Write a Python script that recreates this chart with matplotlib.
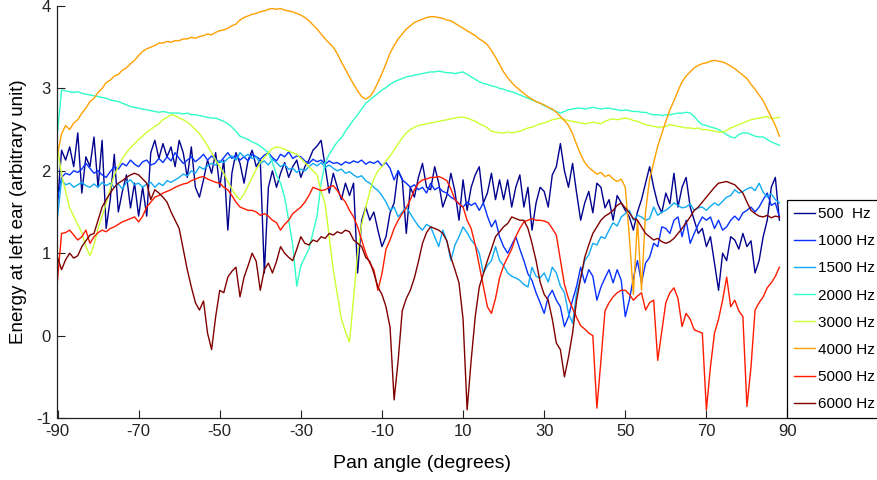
import numpy as np
import matplotlib
matplotlib.use("Agg")
import matplotlib.pyplot as plt

plt.rcParams['font.family'] = ['Liberation Sans', 'DejaVu Sans']

labels = ["500  Hz", "1000 Hz", "1500 Hz", "2000 Hz", "3000 Hz", "4000 Hz", "5000 Hz", "6000 Hz"]
colors = ["#00008f", "#0530ff", "#10aaf5", "#30ffc8", "#ccff30", "#ffa000", "#ff1a00", "#800000"]

start_angle = -90  # first pan angle, 1 degree steps

f500 = [
    1.60, 2.25, 2.13, 2.29, 2.05, 2.46, 1.73, 2.17, 2.05, 2.41,
    1.80, 2.37, 1.30, 1.65, 2.20, 1.50, 1.75, 1.95, 1.55, 1.85,
    1.45, 1.80, 1.45, 2.22, 2.37, 2.15, 2.33, 2.17, 2.29, 2.05,
    2.37, 2.22, 1.92, 2.29, 1.80, 1.68, 1.89, 2.13, 1.97, 2.22,
    1.80, 2.13, 1.28, 1.97, 2.22, 2.09, 1.85, 2.13, 2.25, 2.05,
    2.13, 0.76, 1.80, 2.00, 1.80, 1.97, 2.10, 1.92, 2.05, 2.13,
    1.92, 2.05, 2.13, 2.25, 2.30, 2.37, 2.05, 1.73, 1.97, 1.80,
    1.65, 1.85, 1.70, 1.85, 0.76, 1.40, 1.56, 1.40, 1.50, 1.28,
    1.08, 1.20, 1.49, 1.61, 2.00, 1.90, 1.24, 1.80, 1.68, 1.92,
    2.09, 1.80, 1.77, 2.05, 1.85, 1.56, 1.70, 1.97, 1.75, 1.40,
    1.89, 1.52, 1.80, 1.95, 2.05, 1.61, 1.73, 1.97, 1.65, 1.89,
    1.65, 1.89, 1.56, 1.80, 1.95, 1.56, 1.80, 1.28, 1.61, 1.80,
    1.75, 1.56, 1.95, 2.05, 2.33, 2.00, 1.80, 2.09, 1.73, 1.40,
    1.61, 1.75, 1.49, 1.85, 1.80, 1.55, 1.65, 1.40, 1.70, 1.61,
    1.52, 1.44, 1.28, 1.50, 1.65, 1.85, 2.05, 1.80, 1.60, 1.49,
    1.73, 1.60, 1.97, 1.56, 1.80, 1.92, 1.56, 1.40, 1.24, 1.30,
    1.08, 1.20, 0.88, 0.55, 1.00, 0.91, 1.20, 1.16, 1.05, 1.24,
    1.08, 1.15, 0.76, 0.91, 1.20, 1.40, 1.80, 1.92, 1.40,
]

f1000 = [
    1.65, 1.92, 1.97, 1.95, 2.00, 1.98, 2.02, 2.09, 2.03, 1.97,
    2.00, 1.95, 1.92, 1.99, 2.05, 2.02, 2.09, 2.06, 2.13, 2.08,
    2.05, 2.11, 2.13, 2.07, 2.09, 2.15, 2.10, 2.17, 2.12, 2.22,
    2.15, 2.09, 2.13, 2.17, 2.11, 2.15, 2.20, 2.13, 2.18, 2.14,
    2.10, 2.16, 2.22, 2.15, 2.19, 2.13, 2.17, 2.12, 2.20, 2.17,
    2.14, 2.19, 2.22, 2.16, 2.12, 2.20, 2.17, 2.23, 2.15, 2.18,
    2.17, 2.12, 2.09, 2.14, 2.11, 2.13, 2.08, 2.12, 2.09, 2.10,
    2.07, 2.11, 2.09, 2.12, 2.10, 2.13, 2.08, 2.11, 2.09, 2.12,
    2.06, 2.10, 2.03, 1.89, 2.00, 1.89, 1.85, 1.80, 1.83, 1.77,
    1.80, 1.73, 1.85, 1.77, 1.80, 1.75, 1.73, 1.68, 1.65, 1.60,
    1.56, 1.62, 1.58, 1.61, 1.52, 1.61, 1.45, 1.32, 1.40, 1.20,
    1.08, 1.00, 1.10, 1.20, 1.05, 0.91, 0.75, 0.67, 0.52, 0.40,
    0.27, 0.47, 0.55, 0.43, 0.35, 0.11, 0.23, 0.43, 0.60, 0.83,
    0.64, 0.80, 0.72, 0.43, 0.59, 0.70, 0.80, 0.64, 0.80, 0.67,
    0.23, 0.43, 0.70, 0.91, 0.64, 0.88, 0.95, 1.12, 1.08, 1.32,
    1.30, 1.24, 1.40, 1.44, 1.20, 1.40, 1.12, 1.24, 1.35, 1.44,
    1.40, 1.44, 1.30, 1.40, 1.28, 1.32, 1.40, 1.45, 1.40, 1.49,
    1.52, 1.56, 1.50, 1.56, 1.65, 1.73, 1.58, 1.61, 1.44,
]

f1500 = [
    1.44, 1.89, 1.83, 1.85, 1.80, 1.83, 1.86, 1.82, 1.80, 1.84,
    1.80, 1.86, 1.82, 1.85, 1.80, 1.84, 1.78, 1.86, 1.89, 1.83,
    1.85, 1.80, 1.84, 1.86, 1.80, 1.85, 1.82, 1.88, 1.86, 1.89,
    1.92, 1.96, 1.94, 2.00, 1.97, 2.05, 2.02, 2.06, 2.09, 2.07,
    2.12, 2.10, 2.15, 2.18, 2.13, 2.22, 2.17, 2.20, 2.15, 2.17,
    2.09, 2.12, 2.07, 2.14, 2.10, 2.05, 2.08, 2.02, 2.03, 1.98,
    2.02, 2.00, 2.05, 2.09, 2.06, 2.10, 2.04, 2.07, 2.03, 2.00,
    2.02, 1.97, 1.99, 1.95, 1.92, 1.94, 1.88, 1.85, 1.80, 1.76,
    1.70, 1.62, 1.52, 1.56, 1.44, 1.50, 1.56, 1.48, 1.40, 1.33,
    1.28, 1.35, 1.32, 1.20, 1.08, 1.28, 1.15, 0.91, 1.10, 1.20,
    1.32, 1.25, 1.16, 1.10, 1.00, 0.76, 0.85, 0.91, 1.08, 0.91,
    0.85, 0.76, 0.72, 0.70, 0.67, 0.62, 0.59, 0.83, 0.72, 0.70,
    0.76, 0.65, 0.83, 0.76, 0.60, 0.52, 0.27, 0.15, 0.52, 0.70,
    0.91, 0.98, 1.12, 1.10, 1.20, 1.18, 1.28, 1.37, 1.33, 1.44,
    1.48, 1.52, 1.40, 1.46, 1.44, 1.40, 1.42, 1.56, 1.46, 1.50,
    1.52, 1.56, 1.61, 1.58, 1.55, 1.56, 1.60, 1.52, 1.55, 1.56,
    1.52, 1.57, 1.61, 1.58, 1.63, 1.68, 1.70, 1.77, 1.73, 1.75,
    1.78, 1.80, 1.76, 1.85, 1.74, 1.68, 1.72, 1.65, 1.61,
]

f2000 = [
    2.46, 2.98, 2.97, 2.96, 2.95, 2.96, 2.94, 2.93, 2.92, 2.91,
    2.90, 2.89, 2.88, 2.86, 2.85, 2.84, 2.82, 2.80, 2.78, 2.77,
    2.76, 2.75, 2.74, 2.73, 2.72, 2.71, 2.72, 2.71, 2.70, 2.70,
    2.70, 2.69, 2.70, 2.68, 2.68, 2.67, 2.66, 2.65, 2.64, 2.64,
    2.62, 2.60, 2.57, 2.53, 2.48, 2.42, 2.40, 2.38, 2.35, 2.33,
    2.30, 2.26, 2.22, 2.10, 1.95, 1.85, 1.68, 1.40, 1.10, 0.60,
    0.85, 0.95, 1.05, 1.25, 1.45, 1.85, 2.10, 2.20, 2.28, 2.35,
    2.40, 2.48, 2.55, 2.62, 2.68, 2.75, 2.82, 2.86, 2.90, 2.94,
    2.98, 3.01, 3.05, 3.08, 3.10, 3.12, 3.14, 3.15, 3.16, 3.17,
    3.18, 3.19, 3.20, 3.20, 3.21, 3.20, 3.19, 3.19, 3.18, 3.19,
    3.20, 3.17, 3.14, 3.11, 3.08, 3.06, 3.05, 3.03, 3.02, 3.00,
    2.99, 2.97, 2.96, 2.94, 2.92, 2.90, 2.88, 2.86, 2.84, 2.82,
    2.79, 2.77, 2.74, 2.72, 2.70, 2.72, 2.74, 2.75, 2.76, 2.76,
    2.75, 2.76, 2.77, 2.76, 2.75, 2.76, 2.76, 2.75, 2.74, 2.73,
    2.74, 2.73, 2.72, 2.72, 2.71, 2.71, 2.69, 2.68, 2.68, 2.67,
    2.68, 2.68, 2.69, 2.70, 2.70, 2.71, 2.70, 2.66, 2.60, 2.56,
    2.55, 2.53, 2.52, 2.50, 2.47, 2.44, 2.41, 2.40, 2.44, 2.46,
    2.46, 2.44, 2.42, 2.41, 2.41, 2.38, 2.35, 2.33, 2.31,
]

f3000 = [
    2.30, 1.95, 1.75, 1.55, 1.45, 1.35, 1.25, 1.08, 0.97, 1.10,
    1.30, 1.45, 1.60, 1.78, 1.95, 2.05, 2.15, 2.22, 2.28, 2.33,
    2.38, 2.42, 2.47, 2.50, 2.54, 2.57, 2.62, 2.65, 2.68, 2.67,
    2.64, 2.62, 2.59, 2.55, 2.50, 2.45, 2.38, 2.30, 2.22, 2.13,
    2.05, 1.97, 1.87, 1.78, 1.70, 1.65, 1.72, 1.82, 1.92, 2.02,
    2.10, 2.16, 2.22, 2.27, 2.29, 2.28, 2.26, 2.24, 2.22, 2.20,
    2.15, 2.10, 2.05, 2.00, 1.95, 1.75, 1.60, 1.20, 0.80, 0.50,
    0.20, 0.05, -0.08, 0.45, 1.00, 1.35, 1.55, 1.75, 1.90, 2.00,
    2.05, 2.12, 2.18, 2.25, 2.33, 2.40, 2.46, 2.50, 2.53, 2.55,
    2.56, 2.57, 2.58, 2.59, 2.60, 2.61, 2.62, 2.63, 2.64, 2.65,
    2.65, 2.64, 2.62, 2.60, 2.57, 2.55, 2.52, 2.48, 2.47, 2.46,
    2.46, 2.47, 2.46, 2.47, 2.48, 2.50, 2.52, 2.53, 2.55, 2.57,
    2.58, 2.60, 2.62, 2.63, 2.64, 2.62, 2.61, 2.60, 2.59, 2.58,
    2.57, 2.58, 2.59, 2.58, 2.57, 2.60, 2.62, 2.63, 2.62, 2.63,
    2.64, 2.63, 2.61, 2.60, 2.58, 2.56, 2.55, 2.54, 2.53, 2.53,
    2.54, 2.56, 2.55, 2.54, 2.53, 2.52, 2.52, 2.51, 2.52, 2.50,
    2.50, 2.49, 2.48, 2.47, 2.47, 2.49, 2.52, 2.54, 2.56, 2.58,
    2.60, 2.62, 2.63, 2.64, 2.65, 2.66, 2.63, 2.64, 2.65,
]

f4000 = [
    2.20, 2.45, 2.55, 2.50, 2.58, 2.62, 2.70, 2.76, 2.84, 2.88,
    2.95, 3.00, 3.07, 3.10, 3.15, 3.17, 3.22, 3.25, 3.30, 3.34,
    3.40, 3.45, 3.48, 3.50, 3.52, 3.55, 3.55, 3.57, 3.56, 3.58,
    3.58, 3.60, 3.60, 3.62, 3.61, 3.63, 3.64, 3.66, 3.65, 3.68,
    3.70, 3.71, 3.73, 3.76, 3.78, 3.83, 3.86, 3.88, 3.90, 3.91,
    3.93, 3.94, 3.96, 3.97, 3.96, 3.97, 3.95, 3.94, 3.93, 3.91,
    3.89, 3.86, 3.82, 3.77, 3.72, 3.66, 3.60, 3.55, 3.50, 3.42,
    3.32, 3.23, 3.14, 3.05, 2.97, 2.90, 2.87, 2.90, 2.97, 3.07,
    3.18, 3.30, 3.43, 3.52, 3.60, 3.66, 3.72, 3.76, 3.80, 3.82,
    3.84, 3.86, 3.87, 3.87, 3.86, 3.85, 3.83, 3.82, 3.79, 3.76,
    3.73, 3.70, 3.67, 3.64, 3.60, 3.57, 3.53, 3.46, 3.38, 3.29,
    3.20, 3.13, 3.07, 3.02, 2.98, 2.94, 2.90, 2.87, 2.84, 2.82,
    2.80, 2.77, 2.75, 2.71, 2.66, 2.61, 2.55, 2.45, 2.32, 2.20,
    2.10, 2.04, 2.00, 1.96, 1.98, 1.93, 1.95, 1.90, 1.87, 1.90,
    1.80, 1.20, 0.50, 1.40, 0.55, 1.50, 1.90, 2.10, 2.30, 2.45,
    2.60, 2.74, 2.85, 2.97, 3.08, 3.15, 3.20, 3.25, 3.28, 3.30,
    3.31, 3.33, 3.34, 3.33, 3.32, 3.30, 3.27, 3.24, 3.20, 3.16,
    3.12, 3.05, 2.99, 2.92, 2.85, 2.75, 2.65, 2.55, 2.42,
]

f5000 = [
    0.67, 1.24, 1.25, 1.28, 1.22, 1.16, 1.20, 1.28, 1.12, 1.20,
    1.25, 1.28, 1.26, 1.30, 1.32, 1.35, 1.38, 1.40, 1.42, 1.44,
    1.38, 1.45, 1.56, 1.62, 1.68, 1.70, 1.73, 1.75, 1.77, 1.80,
    1.82, 1.84, 1.85, 1.88, 1.90, 1.92, 1.93, 1.90, 1.88, 1.86,
    1.85, 1.80, 1.77, 1.70, 1.62, 1.56, 1.54, 1.52, 1.52, 1.50,
    1.46, 1.48, 1.45, 1.40, 1.37, 1.28, 1.35, 1.40, 1.48, 1.52,
    1.56, 1.62, 1.70, 1.80, 1.78, 1.76, 1.77, 1.80, 1.82, 1.76,
    1.68, 1.62, 1.52, 1.44, 1.32, 1.16, 1.00, 0.88, 0.80, 0.55,
    0.75, 1.05, 1.16, 1.30, 1.40, 1.48, 1.55, 1.65, 1.77, 1.85,
    1.89, 1.90, 1.92, 1.92, 1.93, 1.91, 1.88, 1.78, 1.65, 1.60,
    1.56, 1.40, 1.30, 1.10, 0.85, 0.60, 0.35, 0.27, 0.45, 0.70,
    0.85, 0.95, 1.05, 1.20, 1.30, 1.38, 1.40, 1.42, 1.40, 1.40,
    1.39, 1.37, 1.30, 1.22, 0.92, 0.62, 0.45, 0.33, 0.22, 0.12,
    0.08, 0.03, 0.00, -0.88, -0.30, 0.30, 0.40, 0.47, 0.52, 0.55,
    0.55, 0.50, 0.43, 0.48, 0.52, 0.31, 0.40, 0.43, -0.30, 0.05,
    0.40, 0.52, 0.58, 0.45, 0.11, 0.27, 0.20, 0.07, 0.05, 0.03,
    -0.90, -0.38, 0.03, 0.20, 0.43, 0.71, 0.35, 0.43, 0.30, 0.23,
    -0.86, -0.38, 0.31, 0.40, 0.47, 0.58, 0.64, 0.72, 0.83,
]

f6000 = [
    0.95, 0.80, 0.92, 1.00, 0.94, 0.97, 1.08, 1.15, 1.22, 1.24,
    1.40, 1.56, 1.65, 1.73, 1.80, 1.85, 1.88, 1.92, 1.95, 1.97,
    1.95, 1.90, 1.85, 1.65, 1.77, 1.73, 1.68, 1.62, 1.50, 1.40,
    1.30, 1.05, 0.80, 0.59, 0.40, 0.31, 0.42, 0.03, -0.17, 0.23,
    0.55, 0.52, 0.71, 0.78, 0.83, 0.47, 0.71, 0.85, 1.00, 0.90,
    0.55, 0.80, 0.88, 0.76, 0.90, 1.08, 1.00, 0.95, 0.91, 1.05,
    1.20, 1.12, 1.10, 1.16, 1.14, 1.20, 1.18, 1.24, 1.22, 1.26,
    1.24, 1.28, 1.26, 1.16, 1.12, 1.08, 0.95, 0.90, 0.76, 0.59,
    0.50, 0.35, 0.10, -0.78, -0.30, 0.30, 0.45, 0.55, 0.70, 0.90,
    1.12, 1.25, 1.32, 1.30, 1.28, 1.24, 1.15, 0.95, 0.80, 0.64,
    0.20, -0.90, -0.30, 0.23, 0.59, 0.75, 0.91, 1.05, 1.20, 1.26,
    1.32, 1.36, 1.44, 1.42, 1.40, 1.40, 1.30, 1.12, 0.91, 0.65,
    0.50, 0.43, 0.20, -0.09, -0.17, -0.50, -0.26, 0.03, 0.43, 0.70,
    0.95, 1.10, 1.24, 1.32, 1.40, 1.45, 1.48, 1.52, 1.58, 1.61,
    1.55, 1.49, 1.42, 1.40, 1.32, 1.24, 1.20, 1.16, 1.18, 1.14,
    1.12, 1.14, 1.18, 1.24, 1.30, 1.37, 1.44, 1.52, 1.56, 1.62,
    1.68, 1.74, 1.80, 1.85, 1.86, 1.87, 1.85, 1.83, 1.78, 1.73,
    1.62, 1.52, 1.48, 1.45, 1.44, 1.46, 1.43, 1.45, 1.44,
]

series = [f500, f1000, f1500, f2000, f3000, f4000, f5000, f6000]

x_ticks = [-90, -70, -50, -30, -10, 10, 30, 50, 70, 90]
y_ticks = [-1, 0, 1, 2, 3, 4]

fig = plt.figure(figsize=(8.78, 4.80), dpi=100)
ax = fig.add_axes([57.5 / 878, 62 / 480, 730 / 878, 412 / 480])

for vals, c, lab in zip(series, colors, labels):
    x = np.arange(start_angle, start_angle + len(vals))
    ax.plot(x, vals, color=c, lw=1.0, label=lab)

ax.set_xlim(-90, 90)
ax.set_ylim(-1, 4)
ax.set_xticks(x_ticks)
ax.set_yticks(y_ticks)
ax.set_xticklabels([str(t) for t in x_ticks])
ax.set_yticklabels([str(t) for t in y_ticks])
ax.tick_params(direction='in', length=6, width=0.8, labelsize=12, pad=4, colors='#222222')
ax.tick_params(axis='y', pad=5)
for s in ['top', 'right']:
    ax.spines[s].set_visible(False)
for s in ['left', 'bottom']:
    ax.spines[s].set_linewidth(0.9)
    ax.spines[s].set_color('#222222')

ax.set_xlabel("Pan angle (degrees)", fontsize=14, labelpad=12)
ax.set_ylabel("Energy at left ear (arbitrary unit)", fontsize=13.5, labelpad=6)

leg = fig.legend(loc='lower left', bbox_to_anchor=(787 / 878, 62 / 480), fontsize=11,
                 frameon=True, fancybox=False, edgecolor='black', framealpha=1,
                 handlelength=1.4, handletextpad=0.2, labelspacing=0.86,
                 borderpad=0.45, borderaxespad=0.0)
leg.get_frame().set_linewidth(0.9)

fig.savefig("out.png", dpi=100)
